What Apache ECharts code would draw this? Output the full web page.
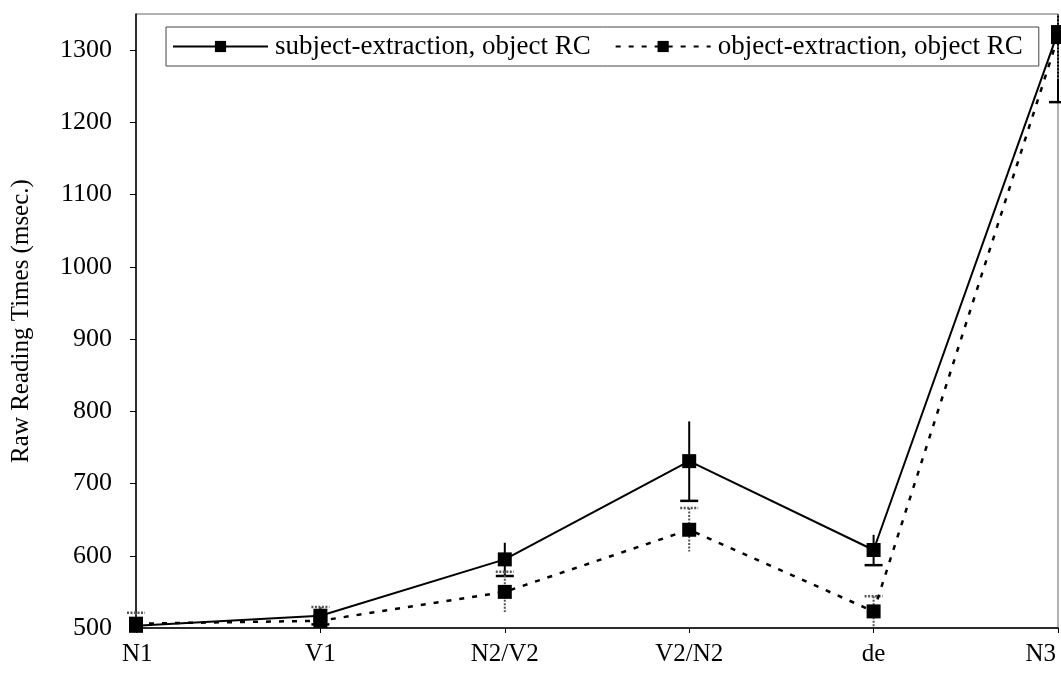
<!DOCTYPE html>
<html>
<head>
<meta charset="utf-8">
<script src="https://cdn.jsdelivr.net/npm/echarts@6/dist/echarts.min.js"></script>
<style>
html,body{margin:0;padding:0;background:#fff;}
#chart{width:1061px;height:694px;}
</style>
</head>
<body>
<div id="chart"></div>
<script>
var categories = ['N1', 'V1', 'N2/V2', 'V2/N2', 'de', 'N3'];
var subjMeans = [503, 517, 595, 731, 608, 1325];
var subjErr = [10, 12, 23, 55, 21, 97];
var objMeans = [506, 510, 550, 636, 523, 1318];
var objErr = [15, 19, 28, 30, 21, 60];
var yTicks = [500, 600, 700, 800, 900, 1000, 1100, 1200, 1300];
var seriesNames = ['subject-extraction, object RC', 'object-extraction, object RC'];

var FONT = '"Liberation Serif", "Times New Roman", serif';

function errData(means, errs) {
  return means.map(function (m, i) { return [i, m - errs[i], m + errs[i]]; });
}

function makeErrRender(capAt, color, dash, width) {
  return function (params, api) {
    var x = api.value(0);
    var lo = api.coord([x, api.value(1)]);
    var hi = api.coord([x, api.value(2)]);
    var cs = params.coordSys;
    var top = Math.max(hi[1], cs.y);
    var bot = Math.min(lo[1], cs.y + cs.height);
    var style = { stroke: color, lineWidth: width, lineDash: dash };
    var children = [{
      type: 'line',
      shape: { x1: lo[0], y1: top, x2: lo[0], y2: bot },
      style: style
    }];
    var capY = capAt === 'low' ? lo[1] : hi[1];
    if (capY >= cs.y && capY <= cs.y + cs.height) {
      children.push({
        type: 'line',
        shape: { x1: lo[0] - 9, y1: capY, x2: lo[0] + 9, y2: capY },
        style: { stroke: color, lineWidth: width + 0.5, lineDash: dash }
      });
    }
    return { type: 'group', children: children };
  };
}

var xData = categories.map(function (c, i) {
  if (i === 0) return { value: c, textStyle: { align: 'left', padding: [0, 0, 0, -14] } };
  if (i === categories.length - 1) return { value: c, textStyle: { align: 'right', padding: [0, 2, 0, 0] } };
  return c;
});

var chart = echarts.init(document.getElementById('chart'), null, { renderer: 'canvas' });
chart.setOption({
  backgroundColor: '#ffffff',
  animation: false,
  textStyle: { fontFamily: FONT, color: '#000' },
  grid: {
    left: 136, right: 3, top: 14, bottom: 66,
    outerBoundsMode: 'none',
    show: true, borderColor: '#666', borderWidth: 1
  },
  legend: {
    data: seriesNames.map(function (n) { return { name: n }; }),
    left: 166, top: 27,
    padding: [6, 16, 6, 6],
    itemWidth: 95, itemHeight: 14, itemGap: 24,
    borderColor: '#444', borderWidth: 1,
    backgroundColor: '#fff',
    textStyle: { fontFamily: FONT, fontSize: 27, color: '#000', padding: [0, 0, 0, 2] }
  },
  xAxis: {
    type: 'category',
    data: xData,
    boundaryGap: false,
    axisLine: { lineStyle: { color: '#000', width: 1.5 } },
    axisTick: { show: true, length: 5, lineStyle: { color: '#000' } },
    axisLabel: { fontFamily: FONT, fontSize: 25, color: '#000', margin: 14,
      showMinLabel: true, showMaxLabel: true },
    splitLine: { show: false }
  },
  yAxis: {
    type: 'value',
    min: 500, max: 1350, interval: 100,
    name: 'Raw Reading Times (msec.)',
    nameLocation: 'middle', nameGap: 102, nameRotate: 90,
    nameTextStyle: { fontFamily: FONT, fontSize: 25, color: '#000' },
    axisLine: { show: true, lineStyle: { color: '#000', width: 1.5 } },
    axisTick: { show: true, length: 6, lineStyle: { color: '#000' }, customValues: yTicks },
    axisLabel: { fontFamily: FONT, fontSize: 26, color: '#000', margin: 24, customValues: yTicks,
      formatter: function (v) { return String(v); } },
    splitLine: { show: false }
  },
  series: [
    {
      name: seriesNames[0], type: 'line', data: subjMeans,
      symbol: 'rect', symbolSize: 14,
      itemStyle: { color: '#000' },
      lineStyle: { color: '#000', width: 2 },
      z: 5
    },
    {
      name: seriesNames[1], type: 'line', data: objMeans,
      symbol: 'rect', symbolSize: 14,
      itemStyle: { color: '#000' },
      lineStyle: { color: '#000', width: 2.5, type: [5, 8] },
      z: 5
    },
    {
      type: 'custom', name: 'subjErr', data: errData(subjMeans, subjErr),
      renderItem: makeErrRender('low', '#000', null, 2),
      encode: { x: 0, y: [1, 2] }, z: 4, silent: true
    },
    {
      type: 'custom', name: 'objErr', data: errData(objMeans, objErr),
      renderItem: makeErrRender('high', '#555', [2, 1.5], 2),
      encode: { x: 0, y: [1, 2] }, z: 4, silent: true
    }
  ]
});
</script>
</body>
</html>
